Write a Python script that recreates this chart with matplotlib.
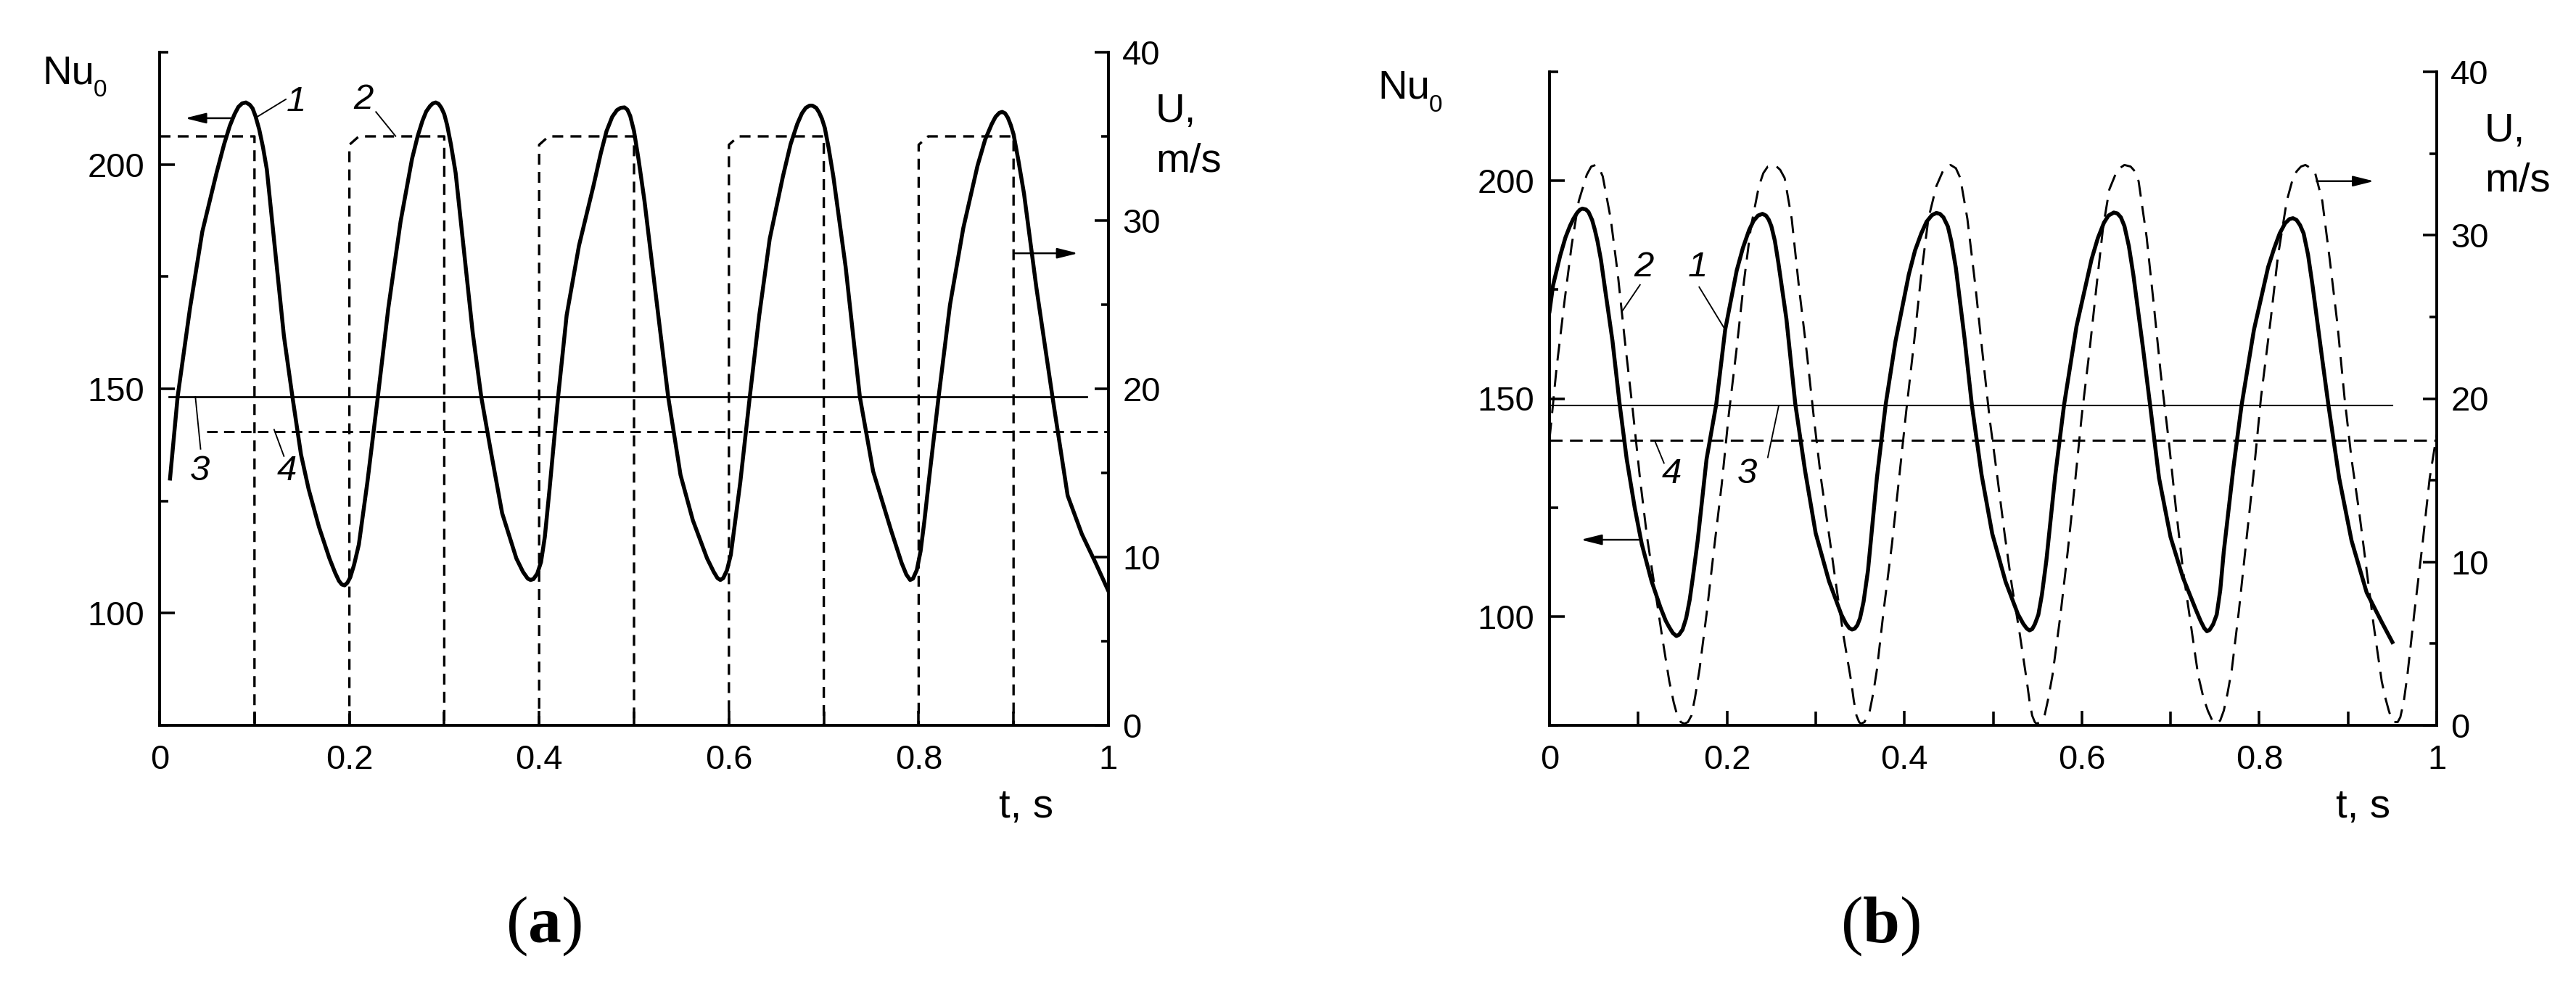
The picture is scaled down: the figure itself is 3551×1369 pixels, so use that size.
import numpy as np
import matplotlib
matplotlib.use("Agg")
import matplotlib.pyplot as plt
from matplotlib.ticker import MultipleLocator

plt.rcParams['font.family'] = ['Liberation Sans', 'DejaVu Sans']
plt.rcParams['mathtext.fontset'] = 'custom'
plt.rcParams['mathtext.rm'] = 'Liberation Serif'
plt.rcParams['mathtext.bf'] = 'Liberation Serif:bold'

# ---------------- data ----------------
x_ticks = [0, 0.2, 0.4, 0.6, 0.8, 1.0]
x_tick_labels = ["0", "0.2", "0.4", "0.6", "0.8", "1"]
nu_ticks = [100, 150, 200]
nu_tick_labels = ["100", "150", "200"]
u_ticks = [0, 10, 20, 30, 40]
u_tick_labels = ["0", "10", "20", "30", "40"]

# panel (a): curve 1, Nu0(t)
nu_a = [(0.011, 130.0), (0.019, 148.2), (0.032, 167.9), (0.045, 185.0), (0.060, 198.1),
        (0.068, 204.5), (0.074, 208.6), (0.079, 211.2), (0.083, 212.8), (0.087, 213.6),
        (0.091, 213.8), (0.095, 213.3), (0.098, 212.5), (0.101, 210.8), (0.105, 207.8),
        (0.109, 203.8), (0.113, 198.9), (0.122, 180.3), (0.131, 161.8),
        (0.140, 148.2), (0.149, 135.4), (0.157, 127.7), (0.168, 119.2), (0.179, 112.2),
        (0.185, 109.0), (0.189, 107.2), (0.192, 106.4), (0.195, 106.2), (0.198, 106.8),
        (0.201, 108.0), (0.205, 110.8), (0.210, 115.3), (0.219, 129.2),
        (0.230, 148.2), (0.241, 167.9), (0.254, 187.3), (0.266, 201.2), (0.272, 206.3),
        (0.277, 209.7), (0.281, 211.8), (0.285, 213.0), (0.288, 213.6), (0.291, 213.8),
        (0.294, 213.5), (0.297, 212.6), (0.300, 211.2), (0.303, 208.8), (0.307, 204.5),
        (0.312, 198.1), (0.321, 180.3), (0.330, 162.5), (0.339, 148.2), (0.349, 136.2),
        (0.361, 122.3), (0.376, 112.2), (0.383, 109.2), (0.388, 107.7), (0.391, 107.4),
        (0.394, 107.6), (0.398, 108.8), (0.402, 111.4), (0.406, 117.0), (0.411, 127.7),
        (0.420, 148.2), (0.429, 166.4), (0.442, 181.9), (0.457, 195.0), (0.465, 202.5),
        (0.471, 207.4), (0.477, 210.6), (0.482, 212.1), (0.486, 212.6), (0.490, 212.7),
        (0.493, 212.2), (0.496, 210.8), (0.500, 207.4), (0.505, 200.8), (0.511, 191.9),
        (0.522, 172.6), (0.536, 148.2), (0.549, 130.8), (0.562, 120.7), (0.577, 112.2),
        (0.584, 109.2), (0.588, 107.8), (0.591, 107.4), (0.594, 107.8), (0.598, 109.6),
        (0.602, 113.0), (0.606, 119.5), (0.612, 129.2), (0.622, 148.2), (0.632, 166.4),
        (0.643, 183.4), (0.657, 197.4), (0.665, 204.5), (0.672, 209.0), (0.677, 211.4),
        (0.681, 212.6), (0.685, 213.1), (0.688, 213.1), (0.692, 212.6), (0.695, 211.6),
        (0.698, 210.2), (0.701, 208.2), (0.705, 203.8), (0.710, 197.4), (0.723, 177.2),
        (0.738, 148.2), (0.752, 131.6), (0.771, 118.4), (0.782, 111.2), (0.787, 108.6),
        (0.791, 107.4), (0.794, 107.7), (0.798, 109.6), (0.802, 113.8), (0.806, 120.5),
        (0.811, 130.0), (0.821, 148.2), (0.833, 168.7), (0.847, 185.8), (0.862, 199.7),
        (0.870, 205.5), (0.877, 209.0), (0.881, 210.6), (0.885, 211.5), (0.888, 211.7),
        (0.891, 211.4), (0.894, 210.4), (0.897, 208.8), (0.900, 206.7), (0.905, 201.0),
        (0.911, 193.5), (0.924, 172.6), (0.941, 148.2), (0.957, 126.2), (0.972, 117.6),
        (0.986, 111.4), (1.000, 104.9)]

# panel (a): curve 2, U(t) square wave
u_a = [(0.0, 35.0), (0.100, 35.0), (0.100, 0.0), (0.200, 0.0), (0.200, 34.5), (0.210, 35.0),
       (0.300, 35.0), (0.300, 0.0), (0.400, 0.0), (0.400, 34.5), (0.410, 35.0),
       (0.500, 35.0), (0.500, 0.0), (0.600, 0.0), (0.600, 34.5), (0.610, 35.0),
       (0.700, 35.0), (0.700, 0.0), (0.800, 0.0), (0.800, 34.5), (0.810, 35.0),
       (0.900, 35.0), (0.900, 0.0), (1.000, 0.0)]

# panel (a): lines 3 and 4 (Nu levels) with their t extents
line3_a = [(0.010, 148.2), (0.977, 148.2)]
line4_a = [(0.050, 140.4), (1.000, 140.4)]

# panel (b): curve 1, Nu0(t)
nu_b = [(0.000, 170.0), (0.004, 176.0), (0.012, 182.8), (0.018, 187.0), (0.023, 189.6),
        (0.027, 191.3), (0.031, 192.6), (0.034, 193.3), (0.037, 193.6), (0.041, 193.4),
        (0.044, 192.8), (0.048, 191.0), (0.051, 188.8), (0.054, 186.2), (0.058, 181.8),
        (0.062, 176.0), (0.071, 163.2),
        (0.079, 148.8), (0.087, 136.1), (0.096, 125.0), (0.104, 116.6), (0.115, 108.1),
        (0.125, 102.1), (0.131, 99.0), (0.135, 97.5), (0.139, 96.2), (0.143, 95.5),
        (0.146, 95.8), (0.150, 97.0), (0.154, 99.6), (0.158, 103.8), (0.162, 109.6),
        (0.167, 117.4), (0.177, 136.1), (0.188, 148.8), (0.198, 165.8), (0.211, 179.4),
        (0.218, 184.6), (0.225, 188.7), (0.230, 190.8), (0.235, 192.0), (0.240, 192.4),
        (0.244, 192.0), (0.247, 191.1), (0.250, 189.6), (0.254, 186.2), (0.258, 181.1),
        (0.267, 168.3),
        (0.277, 148.8), (0.288, 133.5), (0.300, 119.1), (0.315, 108.1), (0.329, 100.4),
        (0.334, 98.4), (0.338, 97.3), (0.341, 97.0), (0.344, 97.2), (0.347, 98.0),
        (0.350, 99.6), (0.354, 103.4), (0.359, 110.6), (0.369, 131.8), (0.379, 148.8),
        (0.390, 163.2), (0.405, 178.5), (0.412, 184.0), (0.419, 187.9), (0.425, 190.6),
        (0.431, 192.1), (0.436, 192.6), (0.440, 192.4), (0.444, 191.6), (0.449, 189.5),
        (0.453, 186.0), (0.458, 180.0), (0.468, 163.5), (0.476, 148.6), (0.487, 132.5),
        (0.499, 119.0), (0.514, 108.0), (0.528, 100.5), (0.534, 98.3), (0.538, 97.2),
        (0.541, 96.8), (0.544, 97.1), (0.547, 98.2), (0.551, 100.4), (0.555, 105.0),
        (0.560, 112.8), (0.570, 132.3), (0.580, 148.6), (0.594, 166.6), (0.611, 182.0),
        (0.618, 186.8), (0.625, 190.4), (0.630, 192.0), (0.636, 192.7), (0.640, 192.5),
        (0.644, 191.6), (0.648, 189.6), (0.653, 185.0), (0.658, 178.5), (0.669, 161.5),
        (0.677, 148.4), (0.687, 131.8), (0.700, 118.2), (0.714, 108.9), (0.729, 101.3),
        (0.734, 98.9), (0.738, 97.3), (0.741, 96.6), (0.744, 96.9), (0.748, 98.2),
        (0.752, 100.4), (0.756, 106.0), (0.760, 114.9), (0.771, 134.4), (0.780, 148.4),
        (0.794, 165.8), (0.810, 180.2), (0.817, 184.6), (0.823, 187.9), (0.829, 190.2),
        (0.834, 191.2), (0.838, 191.4), (0.842, 191.0), (0.846, 189.8), (0.850, 187.9),
        (0.855, 183.0), (0.860, 176.0), (0.871, 159.0), (0.878, 148.4), (0.890, 131.8),
        (0.904, 117.4), (0.921, 105.5), (0.938, 98.7), (0.950, 94.1)]

# panel (b): curve 2, U(t)
u_b = [(0.000, 17.5), (0.008, 21.9), (0.017, 26.0), (0.025, 29.4), (0.033, 32.1), (0.042, 33.7),
       (0.047, 34.2), (0.052, 34.3), (0.056, 34.1), (0.060, 33.6), (0.069, 31.0), (0.077, 27.6),
       (0.085, 23.5), (0.094, 19.2),
       (0.102, 15.1), (0.110, 11.5), (0.119, 8.3), (0.127, 5.4), (0.135, 2.7), (0.140, 1.4),
       (0.144, 0.6), (0.148, 0.2), (0.152, 0.1), (0.156, 0.2), (0.160, 0.6), (0.164, 1.7),
       (0.169, 3.4), (0.177, 6.8), (0.185, 10.6), (0.194, 14.7),
       (0.202, 19.0), (0.211, 23.1), (0.219, 27.1), (0.227, 30.5), (0.236, 33.0), (0.241, 33.8),
       (0.246, 34.2), (0.254, 34.3), (0.260, 34.0), (0.265, 33.5), (0.273, 31.0), (0.281, 26.9),
       (0.290, 22.8), (0.298, 18.8),
       (0.306, 15.1), (0.315, 11.7), (0.323, 8.6), (0.331, 5.6), (0.340, 2.7), (0.343, 1.5),
       (0.346, 0.6), (0.349, 0.2), (0.351, 0.1), (0.355, 0.2), (0.361, 0.9), (0.365, 2.0),
       (0.369, 3.4), (0.377, 7.2), (0.386, 11.1), (0.394, 15.1),
       (0.402, 19.2), (0.411, 23.5), (0.419, 27.6), (0.427, 31.0), (0.436, 33.0), (0.444, 34.0),
       (0.452, 34.3), (0.458, 34.1), (0.463, 33.5), (0.471, 31.0), (0.480, 26.9), (0.488, 22.8),
       (0.496, 18.8),
       (0.505, 15.1), (0.513, 11.7), (0.521, 8.6), (0.530, 5.6), (0.538, 2.7), (0.541, 1.5),
       (0.544, 0.6), (0.547, 0.2), (0.549, 0.1), (0.553, 0.2), (0.558, 0.6), (0.562, 1.6),
       (0.567, 3.1), (0.576, 6.8), (0.584, 10.6), (0.592, 14.7),
       (0.600, 19.0), (0.609, 23.1), (0.617, 27.1), (0.624, 30.5), (0.631, 32.8), (0.640, 34.0),
       (0.648, 34.3), (0.655, 34.2), (0.660, 33.9), (0.664, 33.3), (0.673, 29.9), (0.681, 25.8),
       (0.689, 21.5), (0.698, 17.4), (0.706, 13.3), (0.714, 9.5), (0.723, 6.1), (0.731, 3.1),
       (0.737, 1.7), (0.742, 0.9), (0.747, 0.3), (0.752, 0.1), (0.756, 0.3), (0.760, 0.9),
       (0.764, 1.9), (0.769, 3.4), (0.777, 7.0), (0.785, 11.1), (0.794, 15.6),
       (0.802, 20.1), (0.813, 24.9), (0.821, 28.7), (0.831, 32.1), (0.837, 33.3), (0.842, 33.9),
       (0.847, 34.2), (0.852, 34.3), (0.858, 34.1), (0.863, 33.8), (0.871, 32.1), (0.879, 28.7),
       (0.888, 24.6), (0.896, 20.1), (0.904, 16.3),
       (0.913, 12.9), (0.921, 9.5), (0.929, 6.1), (0.938, 2.7), (0.942, 1.7), (0.946, 0.9),
       (0.949, 0.4), (0.952, 0.2), (0.956, 0.2), (0.959, 0.5), (0.963, 1.5),
       (0.967, 3.1), (0.975, 7.0), (0.984, 11.1), (0.992, 15.1), (1.000, 17.8)]

line3_b = [(0.000, 148.4), (0.950, 148.4)]
line4_b = [(0.000, 140.5), (1.000, 140.5)]

# curve labels: (text, label t, label Nu, leader start t, Nu, leader end t, Nu)
labels_a = [("1", 0.144, 214.0, 0.133, 214.5, 0.1036, 210.7),
            ("2", 0.215, 214.4, 0.228, 211.7, 0.2487, 206.3),
            ("3", 0.0425, 131.6, 0.0432, 136.6, 0.0377, 148.2),
            ("4", 0.134, 131.6, 0.131, 135.0, 0.1207, 140.9)]
labels_b = [("2", 0.106, 180.2, 0.102, 176.1, 0.0824, 170.2),
            ("1", 0.167, 180.2, 0.1687, 175.6, 0.198, 165.8),
            ("4", 0.1375, 132.7, 0.129, 135.2, 0.1187, 140.3),
            ("3", 0.223, 132.7, 0.246, 136.5, 0.2584, 148.4)]
# arrows: (tail t, tip t, Nu level)
arrows_a = [(0.078, 0.0268, 210.3), (0.9015, 0.968, 180.2)]
arrows_b = [(0.1007, 0.0352, 117.6), (0.8646, 0.9293, 199.9)]

# ---------------- figure ----------------
W, H = 3551, 1369
DPI = 300
fig = plt.figure(figsize=(W / DPI, H / DPI), dpi=DPI)


def px_axes(l, r, t, b):
    return fig.add_axes([l / W, 1 - b / H, (r - l) / W, (b - t) / H])


def ptxt(x, y, s, **kw):
    return fig.text(x / W, 1 - y / H, s, **kw)


def style(ax, ax2):
    for a in (ax, ax2):
        a.spines['top'].set_visible(False)
        for s in a.spines.values():
            s.set_linewidth(0.85)
    ax.set_xlim(0, 1)
    ax.set_ylim(75, 225)
    ax2.set_ylim(0, 40)
    ax.set_xticks(x_ticks)
    ax.set_xticklabels(x_tick_labels)
    ax.xaxis.set_minor_locator(MultipleLocator(0.1))
    ax.set_yticks(nu_ticks)
    ax.set_yticklabels(nu_tick_labels)
    ax.yaxis.set_minor_locator(MultipleLocator(25))
    ax2.set_yticks(u_ticks)
    ax2.set_yticklabels(u_tick_labels)
    ax2.yaxis.set_minor_locator(MultipleLocator(5))
    ax.tick_params(axis='x', which='major', direction='in', length=4.8, width=0.85,
                   labelsize=11.3, pad=6.3)
    ax.tick_params(axis='x', which='minor', direction='in', length=4.5, width=0.85)
    ax.tick_params(axis='y', which='major', direction='in', length=5, width=0.85,
                   labelsize=11.3, pad=5.0, right=False)
    ax.tick_params(axis='y', which='minor', direction='in', length=2.8, width=0.85, right=False)
    ax2.tick_params(axis='y', which='major', direction='in', length=4.6, width=0.85,
                    labelsize=11.3, pad=4.6, left=False)
    ax2.tick_params(axis='y', which='minor', direction='in', length=2.5, width=0.85, left=False)


def draw_labels(ax, labels, arrows):
    for txt, lt, ln, t1, n1, t2, n2 in labels:
        ax.text(lt, ln, txt, fontsize=11.8, fontstyle='italic', ha='center', va='center')
        ax.plot([t1, t2], [n1, n2], color='k', lw=0.45)
    for tail, tip, lev in arrows:
        ax.annotate('', xy=(tip, lev), xytext=(tail, lev),
                    arrowprops=dict(arrowstyle='-|>,head_length=0.4,head_width=0.1',
                                    mutation_scale=14.5, lw=0.6, color='k',
                                    shrinkA=0, shrinkB=0))


# ----- panel (a) -----
axA = px_axes(220, 1528, 72, 1000)
axA2 = axA.twinx()
style(axA, axA2)
t, v = np.array(nu_a).T
axA.plot(t, v, color='k', lw=1.3, solid_joinstyle='round')
t, v = np.array(line3_a).T
axA.plot(t, v, color='k', lw=0.65)
t, v = np.array(line4_a).T
axA.plot(t, v, color='k', lw=0.7, dashes=(5, 3))
t, v = np.array(u_a).T
axA2.plot(t, v, color='k', lw=0.8, dashes=(4.5, 3))
draw_labels(axA, labels_a, arrows_a)

# ----- panel (b) -----
axB = px_axes(2136, 3359, 99, 1000)
axB2 = axB.twinx()
style(axB, axB2)
t, v = np.array(nu_b).T
axB.plot(t, v, color='k', lw=1.3, solid_joinstyle='round')
t, v = np.array(line3_b).T
axB.plot(t, v, color='k', lw=0.5)
t, v = np.array(line4_b).T
axB.plot(t, v, color='k', lw=0.7, dashes=(6, 3.5))
t, v = np.array(u_b).T
axB2.plot(t, v, color='k', lw=0.7, dashes=(8, 4.5))
draw_labels(axB, labels_b, arrows_b)

# ----- axis titles -----
for nx, ny in [(58, 115), (1899, 136)]:
    ptxt(nx, ny, "Nu", fontsize=13.5, ha='left', va='baseline')
    ptxt(nx + 71, ny + 18, "0", fontsize=8, ha='left', va='baseline')
for ux, uy in [(1593, 168), (3425, 195)]:
    ptxt(ux, uy, "U,", fontsize=13.5, ha='left', va='baseline')
    ptxt(ux, uy + 69, "m/s", fontsize=13.5, ha='left', va='baseline')
for tx in (1377, 3220):
    ptxt(tx, 1127, "t, s", fontsize=13.5, ha='left', va='baseline')

ptxt(749, 1299, r"$(\mathbf{a})$", fontsize=22, ha='center', va='baseline')
ptxt(2592, 1299, r"$(\mathbf{b})$", fontsize=22, ha='center', va='baseline')

fig.savefig("out.png", dpi=DPI)
